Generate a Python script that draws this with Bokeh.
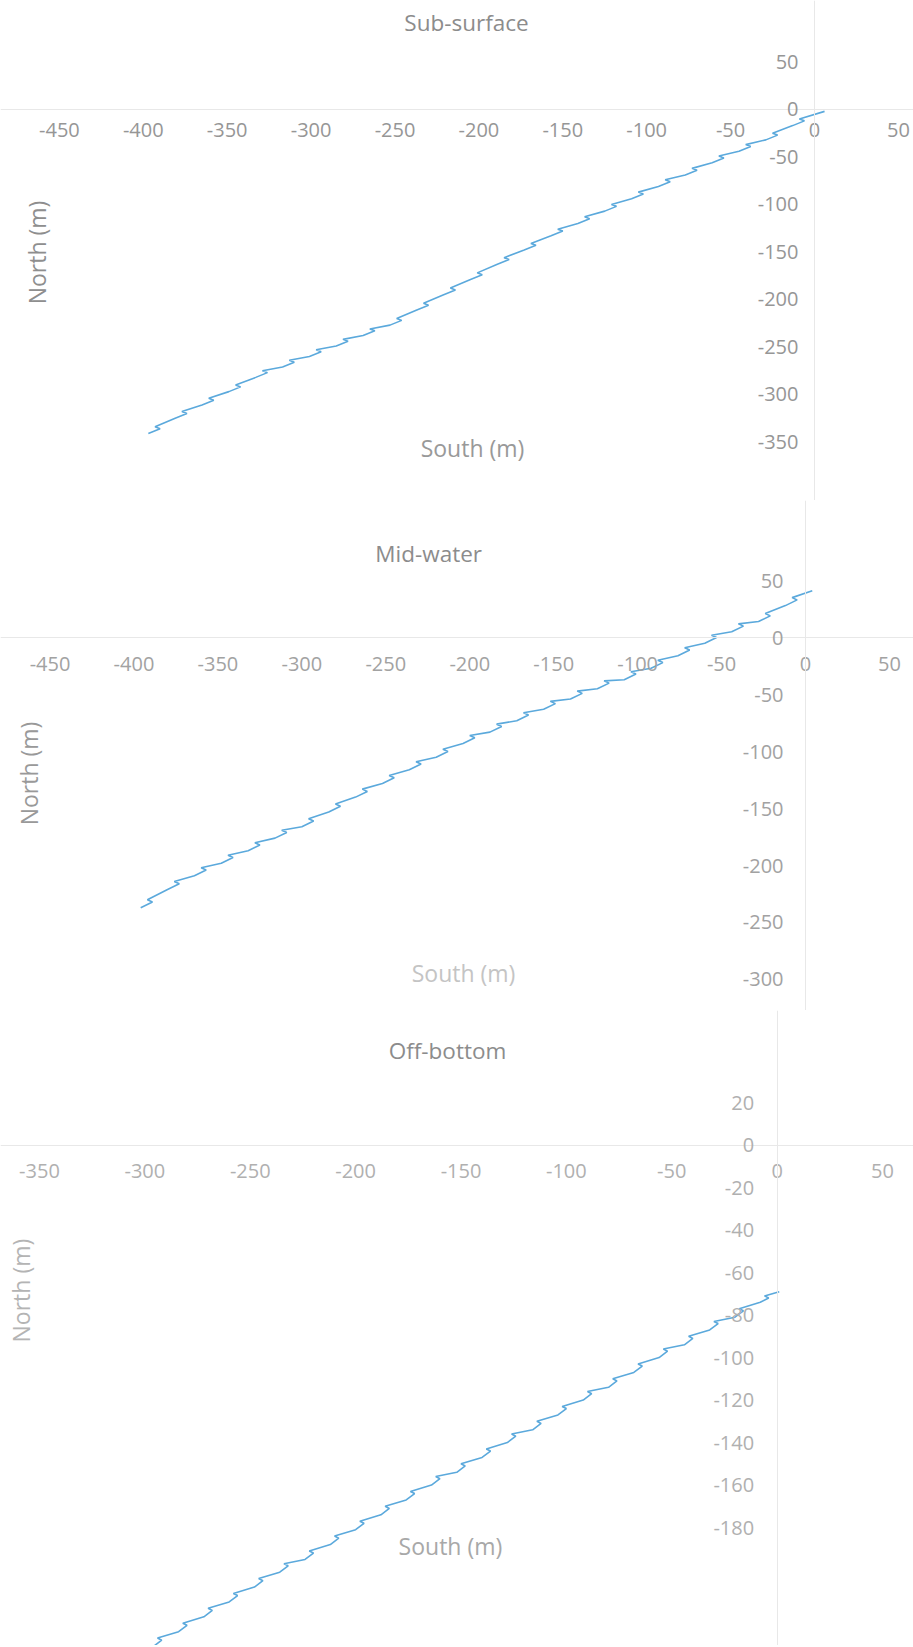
from bokeh.plotting import figure
from bokeh.models import FixedTicker, Label, Range1d
from bokeh.layouts import column
from bokeh.embed import file_html
from bokeh.resources import INLINE

# ---------------- data ----------------
sub_x = [-397, -390, -393, -381, -374, -377, -365, -358, -361, -349, -342, -345,
         -333, -326, -329, -317, -310, -313, -301, -294, -297, -285, -278, -281,
         -269, -262, -265, -253, -246, -249, -237, -230, -233, -221, -214, -217,
         -205, -198, -201, -189, -182, -185, -173, -166, -169, -157, -150, -153,
         -141, -134, -137, -125, -118, -121, -109, -102, -105, -93, -86, -89,
         -77, -70, -73, -61, -54, -57, -45, -38, -41, -29, -22, -25,
         -13, -6, -9, 6]
sub_y = [-341, -336, -334, -325, -320, -318, -311, -306, -304, -297, -292, -290,
         -282, -277, -275, -271, -266, -264, -260, -255, -253, -249, -244, -242,
         -238, -233, -231, -227, -222, -220, -211, -206, -204, -195, -190, -188,
         -179, -174, -172, -163, -158, -156, -148, -143, -141, -133, -128, -126,
         -120, -115, -113, -107, -102, -100, -94, -89, -87, -81, -76, -74,
         -69, -64, -62, -56, -51, -49, -44, -39, -37, -32, -27, -25,
         -17, -12, -10, -2]

mid_x = [-396, -389, -392, -380, -373, -376, -364, -357, -360, -348, -341, -344,
         -332, -325, -328, -316, -309, -312, -300, -293, -296, -284, -277, -280,
         -268, -261, -264, -252, -245, -248, -236, -229, -232, -220, -213, -216,
         -204, -197, -200, -188, -181, -184, -172, -165, -168, -156, -149, -152,
         -140, -133, -136, -124, -117, -120, -108, -101, -104, -92, -85, -88,
         -76, -69, -72, -60, -53, -56, -44, -37, -40, -28, -21, -24,
         -12, -5, -8, 4]
mid_y = [-237, -232, -230, -221, -216, -214, -209, -204, -202, -198, -193, -191,
         -187, -182, -180, -176, -171, -169, -166, -161, -159, -153, -148, -146,
         -140, -135, -133, -128, -123, -121, -116, -111, -109, -105, -100, -98,
         -93, -88, -86, -83, -78, -76, -73, -68, -66, -63, -58, -56,
         -54, -49, -47, -45, -40, -38, -37, -32, -30, -27, -22, -20,
         -16, -11, -9, -5, 0, 2, 5, 10, 12, 14, 19, 21,
         28, 33, 35, 41]

off_x = [-296, -292, -294, -284, -280, -282, -272, -268, -270, -260, -256, -258,
         -248, -244, -246, -236, -232, -234, -224, -220, -222, -212, -208, -210,
         -200, -196, -198, -188, -184, -186, -176, -172, -174, -164, -160, -162,
         -152, -148, -150, -140, -136, -138, -128, -124, -126, -116, -112, -114,
         -104, -100, -102, -92, -88, -90, -80, -76, -78, -68, -64, -66,
         -56, -52, -54, -44, -40, -42, -32, -28, -30, -20, -16, -18,
         -8, -4, -6, 1]
off_y = [-236, -233, -232, -229, -226, -225, -222, -219, -218, -215, -212, -211,
         -208, -205, -204, -201, -198, -197, -195, -192, -191, -188, -185, -184,
         -181, -178, -177, -174, -171, -170, -167, -164, -163, -160, -157, -156,
         -154, -151, -150, -147, -144, -143, -140, -137, -136, -134, -131, -130,
         -127, -124, -123, -120, -117, -116, -114, -111, -110, -107, -104, -103,
         -100, -97, -96, -94, -91, -90, -87, -84, -83, -81, -78, -77,
         -74, -72, -71, -69]

sub_xticks = [-450, -400, -350, -300, -250, -200, -150, -100, -50, 0, 50]
sub_yticks = [50, 0, -50, -100, -150, -200, -250, -300, -350]
mid_xticks = [-450, -400, -350, -300, -250, -200, -150, -100, -50, 0, 50]
mid_yticks = [50, 0, -50, -100, -150, -200, -250, -300]
off_xticks = [-350, -300, -250, -200, -150, -100, -50, 0, 50]
off_yticks = [20, 0, -20, -40, -60, -80, -100, -120, -140, -160, -180]

titles = ["Sub-surface", "Mid-water", "Off-bottom"]
x_title = "South (m)"
y_title = "North (m)"

FONT = "Open Sans"
LINE = "#5BA9DC"


def make_chart(cfg):
    p = figure(width=913, height=cfg["height"], title=None,
               x_range=Range1d(*cfg["xr"]), y_range=Range1d(*cfg["yr"]),
               output_backend="svg", toolbar_location=None,
               min_border_left=0, min_border_right=0,
               min_border_top=0, min_border_bottom=0)

    p.line(cfg["xs"], cfg["ys"], line_color=LINE, line_width=1.6)

    p.xaxis.fixed_location = 0
    p.yaxis.fixed_location = 0
    p.xaxis.ticker = FixedTicker(ticks=cfg["xticks"])
    p.yaxis.ticker = FixedTicker(ticks=cfg["yticks"])
    p.xaxis.major_label_overrides = {t: str(t) for t in cfg["xticks"]}
    p.yaxis.major_label_overrides = {t: str(t) for t in cfg["yticks"]}
    for ax in (p.xaxis, p.yaxis):
        ax.axis_line_color = "#e8e8e8"
        ax.axis_line_width = 1
        ax.major_tick_line_color = None
        ax.minor_tick_line_color = None
        ax.major_tick_out = 0
        ax.major_tick_in = 0
        ax.major_label_text_font = FONT
        ax.major_label_text_font_size = "20px"
        ax.major_label_text_color = cfg["tick_color"]
    p.xaxis.major_label_standoff = cfg["x_standoff"]
    p.yaxis.major_label_standoff = cfg["y_standoff"]

    tx, ty = cfg["title_xy"]
    p.add_layout(Label(x=tx, y=ty, text=cfg["title"], text_align="center",
                       text_baseline="middle", text_font=FONT,
                       text_font_size="22.5px", text_color="#8c8c8c"))
    sx, sy = cfg["south_xy"]
    p.add_layout(Label(x=sx, y=sy, text=x_title, text_align="center",
                       text_baseline="middle", text_font=FONT,
                       text_font_size="23px", text_color=cfg["south_color"]))
    nx, ny = cfg["north_xy"]
    p.add_layout(Label(x=nx, y=ny, text=y_title, text_align="center",
                       text_baseline="middle", angle=90, angle_units="deg",
                       text_font=FONT, text_font_size="23px",
                       text_color=cfg["north_color"]))

    p.grid.visible = False
    p.outline_line_color = None
    p.background_fill_color = "white"
    p.border_fill_color = "white"
    return p


p1 = make_chart(dict(title=titles[0], xs=sub_x, ys=sub_y,
                     xticks=sub_xticks, yticks=sub_yticks,
                     xr=(-485.1, 59.0), yr=(-411.6, 114.7), height=500,
                     tick_color="#969696", x_standoff=14, y_standoff=16,
                     title_xy=(-207.4, 91.6), south_xy=(-203.8, -356.8),
                     north_xy=(-463.6, -150.5), south_color="#999999",
                     north_color="#8e8e8e"))
p2 = make_chart(dict(title=titles[1], xs=mid_x, ys=mid_y,
                     xticks=mid_xticks, yticks=mid_yticks,
                     xr=(-479.5, 64.3), yr=(-327.2, 120.2), height=510,
                     tick_color="#a2a2a2", x_standoff=19, y_standoff=22,
                     title_xy=(-224.5, 73.7), south_xy=(-203.7, -293.9),
                     north_xy=(-462.8, -119.3), south_color="#c4c4c4",
                     north_color="#999999"))
p3 = make_chart(dict(title=titles[2], xs=off_x, ys=off_y,
                     xticks=off_xticks, yticks=off_yticks,
                     xr=(-368.5, 64.7), yr=(-235.5, 63.3), height=635,
                     tick_color="#b0b0b0", x_standoff=19, y_standoff=23,
                     title_xy=(-156.4, 44.5), south_xy=(-155.0, -188.5),
                     north_xy=(-359.0, -68.5), south_color="#a8a8a8",
                     north_color="#b4b4b4"))

layout = column(p1, p2, p3, spacing=0)
open("out.html", "w").write(file_html(layout, INLINE))
